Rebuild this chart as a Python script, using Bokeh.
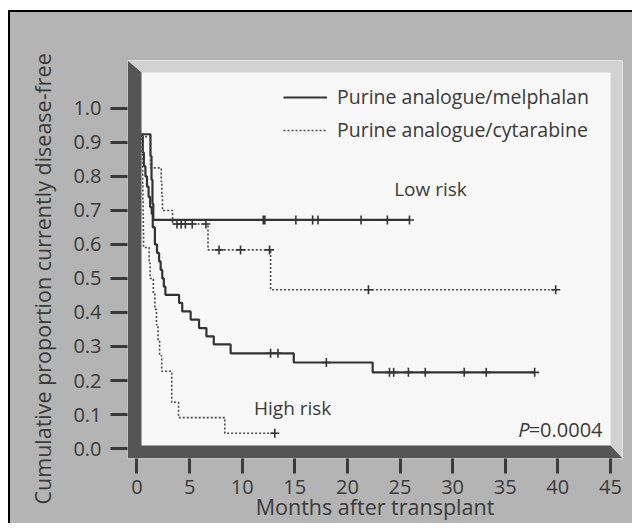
import math
from bokeh.plotting import figure
from bokeh.models import (Range1d, FixedTicker, Legend, LegendItem, Label, Title,
                          InlineStyleSheet)
from bokeh.embed import file_html
from bokeh.resources import INLINE

# ---------------- data ----------------
mel_low_t = [0.0, 1.28, 1.38, 1.47, 1.55, 25.9]
mel_low_s = [0.924, 0.86, 0.79, 0.72, 0.672, 0.672]
mel_low_cens = [12.0, 12.15, 15.1, 16.7, 17.2, 21.3, 23.8, 25.9]

mel_high_t = [0.0, 0.55, 0.65, 0.8, 0.95, 1.1, 1.25, 1.4, 1.5, 1.7, 1.9, 2.1, 2.25,
              2.4, 2.55, 2.7, 4.0, 4.3, 5.1, 5.9, 6.6, 7.3, 8.9, 14.9, 22.4, 37.8]
mel_high_s = [0.92, 0.87, 0.83, 0.80, 0.77, 0.74, 0.71, 0.69, 0.65, 0.60, 0.575, 0.55, 0.525,
              0.50, 0.476, 0.452, 0.428, 0.403, 0.379, 0.354, 0.330, 0.306, 0.280, 0.253, 0.224, 0.224]
mel_high_cens = [12.7, 13.4, 18.0, 24.0, 24.4, 25.8, 27.4, 31.1, 33.2, 37.8]

cyt_low_t = [0.0, 1.28, 2.3, 2.36, 2.42, 3.38, 6.75, 12.7, 39.8]
cyt_low_s = [0.917, 0.825, 0.785, 0.742, 0.70, 0.66, 0.584, 0.467, 0.467]
cyt_low_cens = [3.8, 4.2, 4.6, 5.25, 6.55, 7.8, 9.84, 12.6, 22.0, 39.8]

cyt_high_t = [0.0, 0.5, 0.52, 0.54, 0.56, 0.58, 0.6, 0.62, 1.15, 1.25, 1.55, 1.7, 1.85,
              2.0, 2.15, 2.35, 3.3, 3.95, 8.35, 13.1]
cyt_high_s = [0.909, 0.864, 0.818, 0.773, 0.727, 0.682, 0.636, 0.591, 0.545, 0.5, 0.455,
              0.409, 0.364, 0.318, 0.273, 0.227, 0.136, 0.091, 0.045, 0.045]
cyt_high_cens = [13.1]

x_ticks = [0, 5, 10, 15, 20, 25, 30, 35, 40, 45]
y_ticks = [0.0, 0.1, 0.2, 0.3, 0.4, 0.5, 0.6, 0.7, 0.8, 0.9, 1.0]
y_tick_labels = ["0.0", "0.1", "0.2", "0.3", "0.4", "0.5", "0.6", "0.7", "0.8", "0.9", "1.0"]

series_names = ["Purine analogue/melphalan", "Purine analogue/cytarabine"]
x_title = "Months after transplant"
y_title = "Cumulative proportion currently disease-free"

# ---------------- styles ----------------
FONT = "Open Sans"
TXT = "#3a3a3a"
BG = "#b4b4b4"
FACE = "#f8f8f8"
DARK = "#555555"
LIGHT = "#d2d2d2"

W, H = 632, 523
ML, MR, MT, MB = 127, 10, 60, 64
FW, FH = W - ML - MR, H - MT - MB

x0, x1 = -0.903, 46.15
y0, y1 = -0.0293, 1.1408

p = figure(width=W, height=H, x_range=Range1d(x0, x1), y_range=Range1d(y0, y1),
           output_backend="svg", toolbar_location=None,
           min_border_left=ML, min_border_right=MR, min_border_top=MT, min_border_bottom=MB)
p.background_fill_color = FACE
p.border_fill_color = BG
p.outline_line_color = None
p.grid.visible = False

for ax in (p.xaxis, p.yaxis):
    ax.axis_line_color = None
    ax.major_tick_in = 0
    ax.major_tick_line_width = 3
    ax.major_tick_line_color = "#3a3a3a"
    ax.minor_tick_line_color = None
    ax.major_label_text_font = FONT
    ax.major_label_text_font_size = "20px"
    ax.major_label_text_color = TXT

p.xaxis.ticker = FixedTicker(ticks=x_ticks)
p.xaxis.major_tick_out = 15
p.xaxis.major_label_standoff = 6
p.xaxis.axis_label = x_title
p.xaxis.axis_label_standoff = -5
p.xaxis.axis_label_text_font = FONT
p.xaxis.axis_label_text_font_size = "21.5px"
p.xaxis.axis_label_text_font_style = "normal"
p.xaxis.axis_label_text_color = TXT

p.yaxis.ticker = FixedTicker(ticks=y_ticks)
p.yaxis.major_label_overrides = {t: l for t, l in zip(y_ticks, y_tick_labels)}
p.yaxis.major_tick_out = 17
p.yaxis.major_label_standoff = 9

p.add_layout(Title(text=y_title, align="left", offset=-46, standoff=27,
                   text_font=FONT, text_font_size="21.5px", text_font_style="normal",
                   text_color=TXT), "left")


def step_at(t, ts, ss):
    v = ss[0]
    for ti, si in zip(ts, ss):
        if ti <= t:
            v = si
    return v


SOLID = dict(line_color="#333333", line_width=2.2)
DOTTED = dict(line_color="#4a4a4a", line_width=1.6, line_dash="2 2")

r_mel_low = p.step(mel_low_t, mel_low_s, mode="after", **SOLID)
r_mel_high = p.step(mel_high_t, mel_high_s, mode="after", **SOLID)
r_cyt_low = p.step(cyt_low_t, cyt_low_s, mode="after", **DOTTED)
r_cyt_high = p.step(cyt_high_t, cyt_high_s, mode="after", **DOTTED)

for cens, ts, ss in [(mel_low_cens, mel_low_t, mel_low_s),
                     (mel_high_cens, mel_high_t, mel_high_s),
                     (cyt_low_cens, cyt_low_t, cyt_low_s),
                     (cyt_high_cens, cyt_high_t, cyt_high_s)]:
    p.scatter(cens, [step_at(c, ts, ss) for c in cens], marker="cross", size=9,
              line_color="#333333", line_width=1.6)

# 3D frame walls (decoration) drawn over the lines
kx = FW / (x1 - x0)
ky = FH / (y1 - y0)
xi0 = x0 + 14 / kx
xi1 = x1 - 12 / kx
yi0 = y0 + 13 / ky
yi1 = y1 - 12 / ky
p.patch([x0, x1, x1, xi1, xi1, xi0], [y1, y1, y0, yi0, yi1, yi1],
        fill_color=LIGHT, line_color=None)
p.patch([x0, xi0, xi0, xi1, x1, x0], [y1, yi1, yi0, yi0, y0, y0],
        fill_color=DARK, line_color=None)

legend = Legend(items=[LegendItem(label=series_names[0], renderers=[r_mel_low]),
                       LegendItem(label=series_names[1], renderers=[r_cyt_low])],
                location=(156, 315), border_line_color=None, background_fill_alpha=0,
                glyph_width=44, glyph_height=20, label_height=20, label_standoff=10,
                spacing=6, padding=0, margin=0,
                label_text_font=FONT, label_text_font_size="19.5px", label_text_color=TXT)
p.add_layout(legend)

common = dict(text_font=FONT, text_color=TXT, text_baseline="middle")
p.add_layout(Label(x=27.9, y=0.762, text="Low risk", text_align="center",
                   text_font_size="19px", **common))
p.add_layout(Label(x=14.8, y=0.12, text="High risk", text_align="center",
                   text_font_size="19px", **common))
p.add_layout(Label(x=44.25, y=0.056, text="=0.0004", text_align="right",
                   text_font_size="20px", **common))
p.add_layout(Label(x=44.25, y=0.056, x_offset=-73, text="P", text_align="right",
                   text_font_size="20px", text_font_style="italic", **common))

# white page edge + thin black picture border (top and left)
p.stylesheets = [InlineStyleSheet(css="""
:host::before { content: ""; position: absolute; left: 0; top: 0; width: 8px; bottom: 0;
  background: #ffffff; z-index: 5; pointer-events: none; }
:host::after { content: ""; position: absolute; left: 8px; top: 10px; right: 0; bottom: 0;
  box-sizing: border-box; border-left: 2px solid #000; border-top: 2px solid #000;
  box-shadow: 0 -10px 0 0 #ffffff; z-index: 5; pointer-events: none; }
""")]

open("out.html", "w").write(file_html(p, INLINE))
